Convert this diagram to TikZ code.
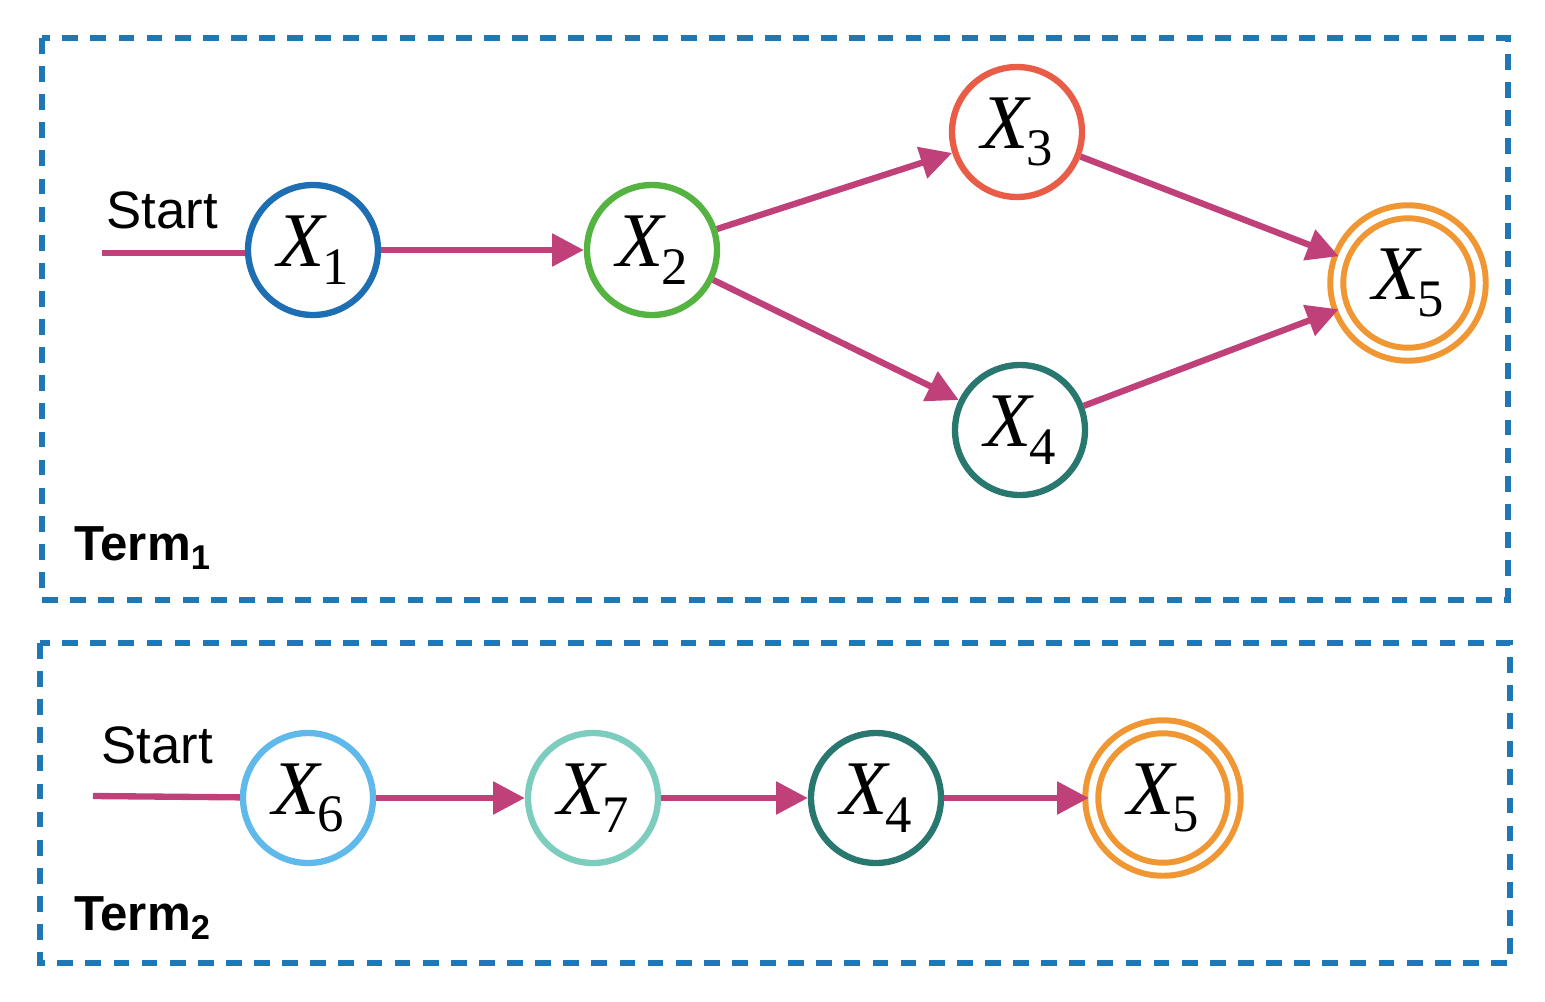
\documentclass[tikz,border=0pt]{standalone}
\usepackage{fontspec}
\newfontfamily\sansf{Liberation Sans}
\newfontfamily\serf{Liberation Serif}
\usetikzlibrary{arrows.meta}
\definecolor{boxblue}{RGB}{31,119,180}
\definecolor{arr}{RGB}{192,64,122}
\definecolor{cA}{RGB}{30,110,180}
\definecolor{cB}{RGB}{85,180,65}
\definecolor{cC}{RGB}{232,92,72}
\definecolor{cD}{RGB}{40,120,112}
\definecolor{cE}{RGB}{240,150,50}
\definecolor{cF}{RGB}{95,185,235}
\definecolor{cG}{RGB}{125,205,190}
\newcommand{\xlab}[1]{{\serf\fontsize{44}{44}\selectfont\itshape X\kern-1pt\raisebox{-10pt}{\upshape\fontsize{30}{30}\selectfont #1}}}
\begin{document}
\begin{tikzpicture}[x=0.02cm,y=-0.02cm,
  st/.style={circle,draw=#1,line width=3.6pt,minimum size=2.6cm,inner sep=0pt},
  fin/.style={circle,draw=cE,line width=3.4pt,minimum size=2.85cm,inner sep=0pt,
     double=white,double distance=4pt},
  e/.style={draw=arr,line width=3.6pt,-{Triangle[length=18pt,width=18pt]}},
  box/.style={draw=boxblue,line width=3pt,dash pattern=on 9pt off 7pt},
  lab/.style={font=\sansf\fontsize{30}{30}\selectfont},
  term/.style={font=\sansf\bfseries\fontsize{28}{28}\selectfont}]
\useasboundingbox (0,0) rectangle (1545,1001);
\draw[box] (42,38) rectangle (1508,600);
\draw[box] (40,643) rectangle (1510,963);
\node[st=cA] (x1) at (313,250) {\xlab{1}};
\node[st=cB] (x2) at (652,250) {\xlab{2}};
\node[st=cC] (x3) at (1017,132) {\xlab{3}};
\node[st=cD] (x4) at (1020,430) {\xlab{4}};
\node[fin] (x5) at (1408,283) {\xlab{5}};
\node[lab] (s1) at (162,210) {Start};
\coordinate (c1) at (102,253);
\node[term,anchor=west] (t1) at (68,548) {Term\textsubscript{1}};
\draw[draw=arr,line width=3.6pt] (c1) -- (x1.west|-c1);
\draw[e] (x1) -- (x2);
\draw[e] (x2) -- (x3);
\draw[e] (x2) -- (x4);
\draw[e] (x3) -- (x5);
\draw[e] (x4) -- (x5);
\node[st=cF] (x6) at (308,798) {\xlab{6}};
\node[st=cG] (x7) at (593,798) {\xlab{7}};
\node[st=cD] (y4) at (876,798) {\xlab{4}};
\node[fin] (y5) at (1163,798) {\xlab{5}};
\node[lab] (s2) at (157,745) {Start};
\coordinate (c2) at (93,796);
\node[term,anchor=west] (t2) at (68,918) {Term\textsubscript{2}};
\draw[draw=arr,line width=3.6pt] (c2) -- (x6);
\draw[e] (x6) -- (x7);
\draw[e] (x7) -- (y4);
\draw[e] (y4) -- (y5);
\end{tikzpicture}
\end{document}
